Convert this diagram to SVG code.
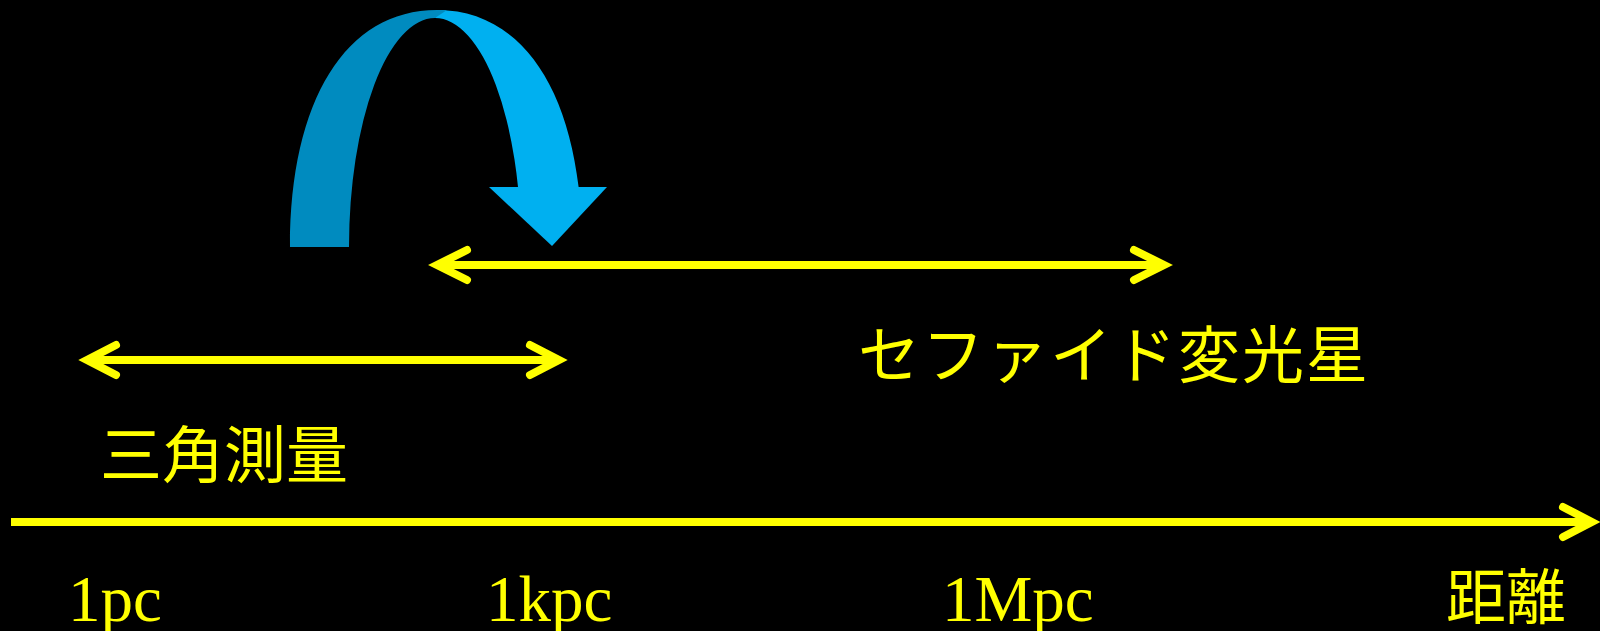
<svg xmlns="http://www.w3.org/2000/svg" width="1600" height="631" viewBox="0 0 1600 631">
<style>
.ln{stroke:#FFFF00;stroke-width:8;fill:none}
.hd{stroke:#FFFF00;stroke-width:8;fill:none;stroke-linecap:round;stroke-linejoin:miter}
.lat{font-family:"Liberation Serif","Times New Roman",serif;font-size:65px;fill:#FFFF00}
.jp{font-family:"Liberation Serif","Noto Sans CJK JP",serif;fill:#FFFF00}
</style>
<defs>
<clipPath id="cut"><rect x="0" y="0" width="1600" height="187"/></clipPath>
</defs>
<rect x="0" y="0" width="1600" height="631" fill="#000000"/>
<g id="curved-arrow">
<path d="M437,10 C527,10 582,100 582,247 L521,247 A86,229 0 0 0 435,18 Z" fill="#00B0F0" clip-path="url(#cut)"/>
<polygon points="489,187 607,187 552,246" fill="#00B0F0"/>
<path d="M290,247 C290,100 346,10 437,10 L447,10 L435,18 A86,229 0 0 0 349,247 Z" fill="#008BBF"/>
</g>
<g id="connectors">
<g id="axis">
<line class="ln" x1="11" y1="522" x2="1590" y2="522"/>
<polyline class="hd" points="1563,507 1592,522 1563,537"/>
</g>
<g id="cepheid-range">
<line class="ln" x1="438" y1="265" x2="1163" y2="265"/>
<polyline class="hd" points="467,250 437,265 467,280"/>
<polyline class="hd" points="1134,250 1164,265 1134,280"/>
</g>
<g id="parallax-range">
<line class="ln" x1="89" y1="360" x2="557" y2="360"/>
<polyline class="hd" points="116,345 87,360 116,375"/>
<polyline class="hd" points="530,345 559,360 530,375"/>
</g>
</g>
<g id="label-triangulation"><text class="jp" x="100" y="478" font-size="62">三角測量</text></g>
<g id="label-cepheid"><text class="jp" x="858" y="378" font-size="62" letter-spacing="2">セファイド変光星</text></g>
<g id="label-distance"><text class="jp" x="1446" y="619" font-size="60">距離</text></g>
<g id="tick-1pc"><text class="lat" x="68" y="621">1pc</text></g>
<g id="tick-1kpc"><text class="lat" x="486" y="621">1kpc</text></g>
<g id="tick-1Mpc"><text class="lat" x="942" y="621">1Mpc</text></g>
</svg>
